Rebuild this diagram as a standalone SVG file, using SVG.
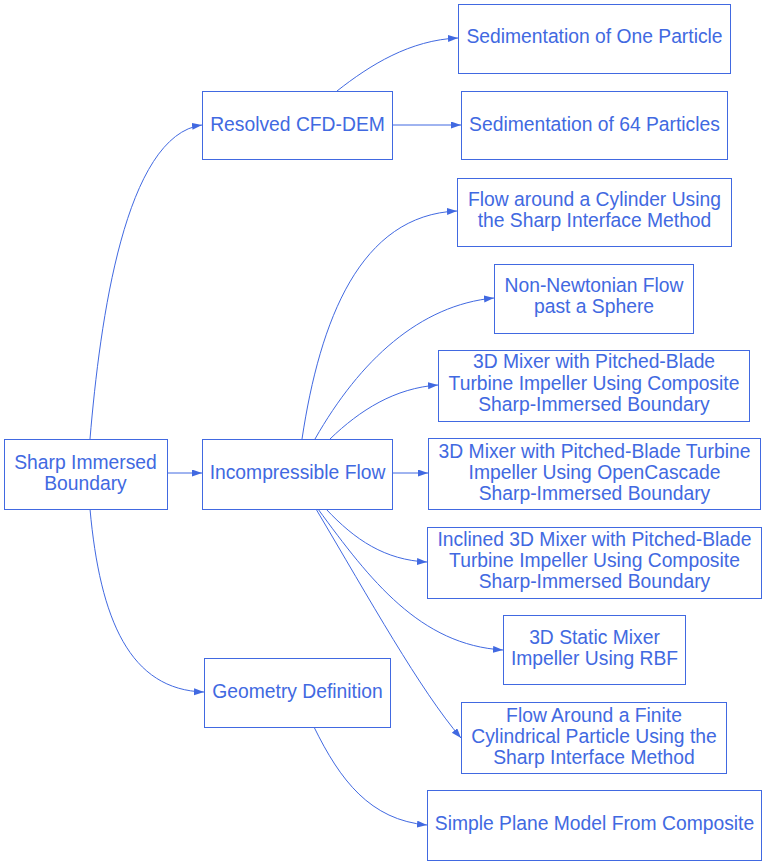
<svg xmlns="http://www.w3.org/2000/svg" width="765" height="864" viewBox="0 0 765 864">
<style>
.n rect{fill:#fff;stroke:#4169E1;stroke-width:1}
.n text{fill:#4169E1;font-family:"Liberation Sans",Arial,sans-serif;font-size:19.3px;text-anchor:middle;dominant-baseline:central}
.e path{fill:none;stroke:#4169E1;stroke-width:1}
</style>
<defs>
<marker id="ah" markerUnits="userSpaceOnUse" markerWidth="11" markerHeight="8" refX="10" refY="3.5" orient="auto">
<path d="M0,0 L10,3.5 L0,7 z" fill="#4169E1"/>
</marker>
</defs>
<rect width="765" height="864" fill="#fff"/>
<g id="edges" class="e">
<path d="M90,439 C100,320 125,135 202,125" marker-end="url(#ah)"/>
<path d="M167,473 L202,473" marker-end="url(#ah)"/>
<path d="M90,509 C100,620 130,690 204,692" marker-end="url(#ah)"/>
<path d="M337,91 C370,65 410,40 458,38" marker-end="url(#ah)"/>
<path d="M392,125 L461,125" marker-end="url(#ah)"/>
<path d="M302,439 C320,320 360,215 457,211" marker-end="url(#ah)"/>
<path d="M315,439 C360,360 420,305 494,298" marker-end="url(#ah)"/>
<path d="M330,439 C360,410 395,388 438,385" marker-end="url(#ah)"/>
<path d="M392,473 L428,473" marker-end="url(#ah)"/>
<path d="M326,509 C355,540 385,560 427,562" marker-end="url(#ah)"/>
<path d="M318,509 C370,580 420,645 503,650" marker-end="url(#ah)"/>
<path d="M316,509 C370,600 420,690 461,738" marker-end="url(#ah)"/>
<path d="M314,727 C340,780 370,820 427,825" marker-end="url(#ah)"/>
</g>
<g id="sib" class="n"><rect x="4.5" y="439.5" width="163" height="70"/><text x="85.5" y="462">Sharp Immersed</text><text x="85.5" y="483">Boundary</text></g>
<g id="rcfd" class="n"><rect x="202.5" y="91.5" width="190" height="68"/><text x="297.5" y="124">Resolved CFD-DEM</text></g>
<g id="if" class="n"><rect x="202.5" y="439.5" width="190" height="70"/><text x="297.5" y="472">Incompressible Flow</text></g>
<g id="gd" class="n"><rect x="204.5" y="658.5" width="186" height="69"/><text x="297.5" y="691">Geometry Definition</text></g>
<g id="sed1" class="n"><rect x="458.5" y="4.5" width="272" height="69"/><text x="594.5" y="36">Sedimentation of One Particle</text></g>
<g id="sed64" class="n"><rect x="461.5" y="91.5" width="266" height="68"/><text x="594.5" y="124">Sedimentation of 64 Particles</text></g>
<g id="cyl" class="n"><rect x="457.5" y="178.5" width="274" height="68"/><text x="594.5" y="199">Flow around a Cylinder Using</text><text x="594.5" y="220">the Sharp Interface Method</text></g>
<g id="nnf" class="n"><rect x="494.5" y="264.5" width="199" height="69"/><text x="594" y="285">Non-Newtonian Flow</text><text x="594" y="306">past a Sphere</text></g>
<g id="mixc" class="n"><rect x="438.5" y="350.5" width="311" height="71"/><text x="594" y="361">3D Mixer with Pitched-Blade</text><text x="594" y="383">Turbine Impeller Using Composite</text><text x="594" y="404">Sharp-Immersed Boundary</text></g>
<g id="mixo" class="n"><rect x="428.5" y="438.5" width="332" height="71"/><text x="594.5" y="451">3D Mixer with Pitched-Blade Turbine</text><text x="594.5" y="472">Impeller Using OpenCascade</text><text x="594.5" y="493">Sharp-Immersed Boundary</text></g>
<g id="incl" class="n"><rect x="427.5" y="527.5" width="334" height="71"/><text x="594.5" y="539">Inclined 3D Mixer with Pitched-Blade</text><text x="594.5" y="560">Turbine Impeller Using Composite</text><text x="594.5" y="581">Sharp-Immersed Boundary</text></g>
<g id="stat" class="n"><rect x="503.5" y="615.5" width="182" height="69"/><text x="594.5" y="637">3D Static Mixer</text><text x="594.5" y="658">Impeller Using RBF</text></g>
<g id="fin" class="n"><rect x="461.5" y="702.5" width="265" height="71"/><text x="594" y="715">Flow Around a Finite</text><text x="594" y="736">Cylindrical Particle Using the</text><text x="594" y="757">Sharp Interface Method</text></g>
<g id="plane" class="n"><rect x="427.5" y="790.5" width="334" height="70"/><text x="594.5" y="823">Simple Plane Model From Composite</text></g>
</svg>
